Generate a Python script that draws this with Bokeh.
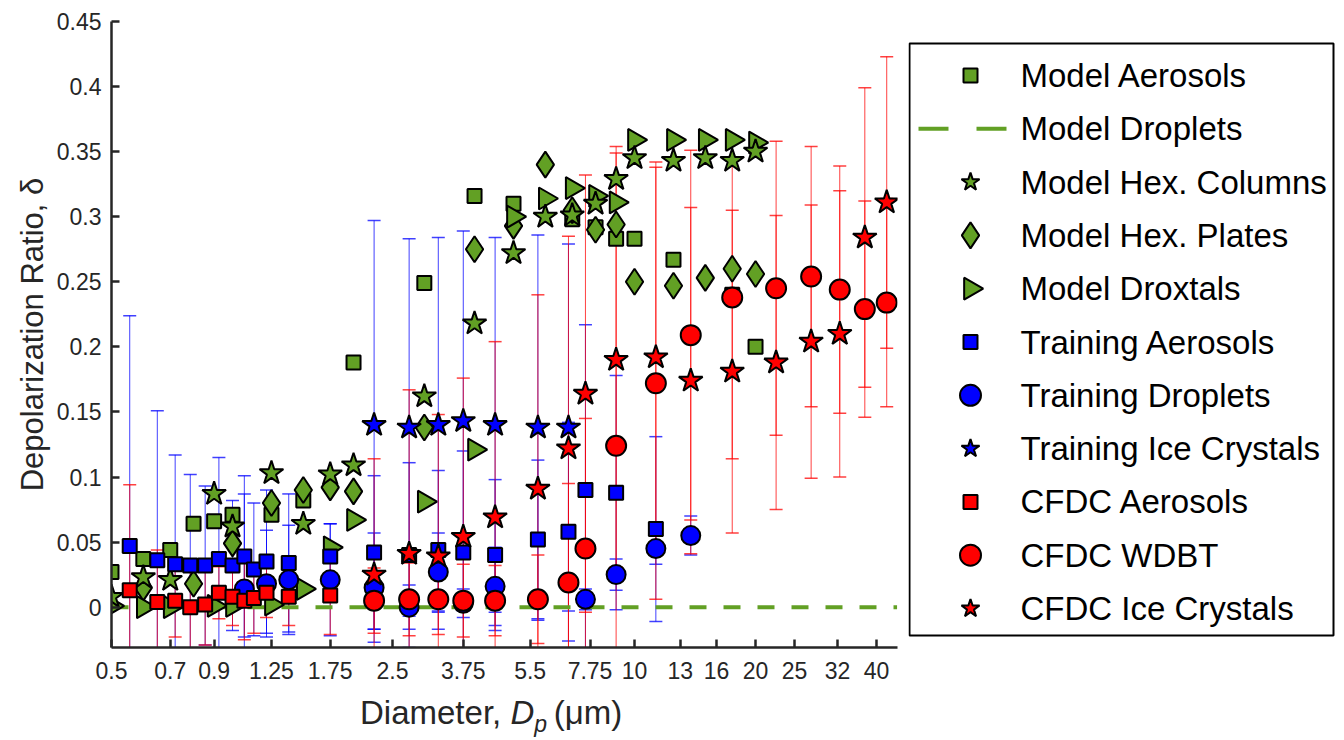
import numpy as np
from bokeh.plotting import figure
from bokeh.models import (ColumnDataSource, Whisker, TeeHead, FixedTicker,
                          CustomJSTickFormatter, Range1d, Div)
from bokeh.layouts import row, column
from bokeh.core.properties import value
from bokeh.embed import file_html
from bokeh.resources import INLINE

NaN = float("nan")
FONT = "Liberation Sans"
GREEN = "#62a024"
BLUE = "#0000ff"
RED = "#ff0000"
AX = "#262626"

# ---------------- data ----------------
x_ticks = [0.5, 0.7, 0.9, 1.25, 1.75, 2.5, 3.75, 5.5, 7.75, 10, 13, 16, 20, 25, 32, 40]
y_ticks = [0, 0.05, 0.1, 0.15, 0.2, 0.25, 0.3, 0.35, 0.4, 0.45]

model_x = [0.5, 0.6, 0.7, 0.8, 0.9, 1.0, 1.25, 1.5, 1.75, 2.0, 3.0, 4.0, 5.0, 6.0,
           7.0, 8.0, 9.0, 10, 12.5, 15, 17.5, 20]
model_aerosols = [0.027, 0.037, 0.044, 0.064, 0.066, 0.071, 0.071, 0.082, NaN, 0.188, 0.249,
                  0.316, 0.310, NaN, 0.298, 0.292, 0.283, 0.283, 0.267, NaN, 0.240, 0.200]
model_hex_columns = [0.008, 0.023, 0.021, NaN, 0.087, 0.062, 0.103, 0.064, 0.102, 0.109, 0.162,
                     0.218, 0.272, 0.300, 0.301, 0.310, 0.329, 0.345, 0.343, 0.345, 0.343, 0.350]
model_hex_plates = [NaN, 0.015, NaN, 0.018, NaN, 0.049, 0.080, 0.090, 0.092, 0.089, 0.138,
                    0.275, 0.293, 0.340, 0.305, 0.290, 0.294, 0.250, 0.247, 0.253, 0.260, 0.256]
model_droxtals = [0.001, 0.000, 0.000, NaN, 0.001, 0.001, 0.002, 0.014, 0.046, 0.067, 0.081,
                  0.121, 0.300, 0.314, 0.322, 0.316, 0.311, 0.359, 0.359, 0.359, 0.359, 0.357]
droplet_x = [0.5, 45.0]
model_droplets = [0.0, 0.0]

tr_aer_x = [0.555, 0.65, 0.72, 0.785, 0.855, 0.925, 1.0, 1.07, 1.13, 1.215, 1.38, 1.75,
            2.25, 2.75, 3.25, 3.75, 4.5, 5.75, 6.85, 7.55, 9.0, 11.3]
tr_aer_y = [0.047, 0.036, 0.033, 0.032, 0.032, 0.037, 0.032, 0.039, 0.029, 0.035, 0.034, 0.039,
            0.042, 0.040, 0.044, 0.042, 0.040, 0.052, 0.058, 0.090, 0.088, 0.060]
tr_aer_err = [0.177, 0.115, 0.084, 0.070, 0.061, 0.078, 0.050, 0.062, 0.051, 0.055, 0.053, 0.025,
              0.059, 0.071, 0.061, 0.078, 0.058, 0.061, 0.084, 0.127, 0.090, 0.071]

tr_drop_x = [1.07, 1.215, 1.38, 1.75, 2.25, 2.75, 3.25, 3.75, 4.5, 7.55, 9.0, 11.3, 13.8]
tr_drop_y = [0.014, 0.018, 0.021, 0.021, 0.015, 0.000, 0.027, 0.003, 0.016, 0.006, 0.025, 0.045, 0.055]
tr_drop_err = [0.073, 0.041, 0.042, 0.043, 0.042, 0.017, 0.030, 0.011, 0.030, 0.008, 0.012, 0.012, 0.015]

tr_ice_x = [2.25, 2.75, 3.25, 3.75, 4.5, 5.75, 6.85]
tr_ice_y = [0.140, 0.138, 0.140, 0.143, 0.140, 0.138, 0.138]
tr_ice_err = [0.157, 0.145, 0.144, 0.146, 0.144, 0.148, 0.141]

cf_aer_x = [0.555, 0.65, 0.72, 0.785, 0.855, 0.925, 1.0, 1.07, 1.13, 1.215, 1.38, 1.75]
cf_aer_y = [0.013, 0.004, 0.005, 0.000, 0.002, 0.011, 0.008, 0.005, 0.007, 0.011, 0.008, 0.009]
cf_aer_err = [0.081, 0.040, 0.028, 0.035, 0.031, 0.020, 0.022, 0.030, 0.027, 0.019, 0.022, 0.030]

cf_x = [2.25, 2.75, 3.25, 3.75, 4.5, 5.75, 6.85, 7.55, 9.0, 11.3, 13.8, 17.5, 22.5,
        27.5, 32.4, 37.4, 42.4]
cf_wdbt_y = [0.005, 0.006, 0.006, 0.005, 0.005, 0.006, 0.019, 0.045, 0.124, 0.172, 0.209,
             0.238, 0.245, 0.254, 0.244, 0.229, 0.234]
cf_wdbt_err = [0.025, 0.028, 0.027, 0.028, 0.027, 0.034, 0.076, 0.100, 0.230, 0.166, 0.142,
               0.124, 0.113, 0.100, 0.095, 0.083, 0.080]
cf_ice_y = [0.025, 0.041, 0.039, 0.054, 0.069, 0.091, 0.122, 0.164, 0.190, 0.192, 0.174,
            0.181, 0.188, 0.204, 0.210, 0.284, 0.311]
cf_ice_err = [0.089, 0.126, 0.109, 0.122, 0.135, 0.149, 0.163, 0.168, 0.159, 0.150, 0.133,
              0.124, 0.113, 0.105, 0.110, 0.115, 0.112]

legend_labels = ["Model Aerosols", "Model Droplets", "Model Hex. Columns", "Model Hex. Plates",
                 "Model Droxtals", "Training Aerosols", "Training Droplets",
                 "Training Ice Crystals", "CFDC Aerosols", "CFDC WDBT", "CFDC Ice Crystals"]

# ---------------- layout constants ----------------
B_LEFT, B_TOP, B_BOTTOM, B_RIGHT = 111, 21, 49, 11
FW, FH = 786, 626

# ---------------- main figure ----------------
X0, X1 = 0.5, 45.1
Y0, Y1 = -0.031, 0.45
p = figure(frame_width=FW, frame_height=FH, x_axis_type="log",
           x_range=Range1d(X0, X1), y_range=Range1d(Y0, Y1),
           output_backend="svg", toolbar_location=None,
           min_border_left=B_LEFT, min_border_top=B_TOP, min_border_bottom=B_BOTTOM,
           min_border_right=B_RIGHT)
p.outline_line_color = None
p.grid.visible = False

for ax in (p.xaxis[0], p.yaxis[0]):
    ax.axis_line_color = AX
    ax.axis_line_width = 2.5
    ax.major_tick_line_color = AX
    ax.major_tick_line_width = 2.5
    ax.major_tick_in = 8
    ax.major_tick_out = 0
    ax.minor_tick_line_color = None
    ax.major_label_text_font = FONT
    ax.major_label_text_font_size = "23px"
    ax.major_label_text_color = AX
    ax.axis_label_text_font = FONT
    ax.axis_label_text_font_size = "31px"
    ax.axis_label_text_font_style = "normal"
    ax.axis_label_text_color = AX

p.xaxis.ticker = FixedTicker(ticks=x_ticks)
p.xaxis.formatter = CustomJSTickFormatter(code="return String(tick);")
p.xaxis.major_label_standoff = 14
p.xaxis.axis_label = None
p.yaxis.ticker = FixedTicker(ticks=y_ticks)
p.yaxis.formatter = CustomJSTickFormatter(code="return String(Number(tick.toFixed(2)));")
p.yaxis.major_label_standoff = 10
p.yaxis.axis_label = "Depolarization Ratio, δ"
p.yaxis.axis_label_standoff = 4


def err_src(x, y, e):
    y = np.array(y, float)
    e = np.array(e, float)
    return ColumnDataSource(dict(x=x, y=y, upper=y + e, lower=y - e))


def add_whisker(src, color, alpha):
    w = Whisker(source=src, base="x", upper="upper", lower="lower", dimension="height",
                line_color=color, line_alpha=alpha, line_width=1,
                upper_head=TeeHead(size=13, line_color=color, line_alpha=alpha, line_width=1.5),
                lower_head=TeeHead(size=13, line_color=color, line_alpha=alpha, line_width=1.5))
    p.add_layout(w)


MK = dict(line_color="black", line_width=2)

p.line(droplet_x, model_droplets, line_color=GREEN, line_width=4, line_dash="17 17")

p.scatter(model_x, model_aerosols, marker="square", size=14, fill_color=GREEN, **MK)
p.scatter(model_x, model_hex_plates, marker="diamond", size=26, fill_color=GREEN, **MK)
p.scatter(model_x, model_droxtals, marker="triangle", size=22, angle=-np.pi / 2,
          fill_color=GREEN, **MK)
p.scatter(model_x, model_hex_columns, marker="star", size=25, fill_color=GREEN, **MK)

s_tr_aer = err_src(tr_aer_x, tr_aer_y, tr_aer_err)
s_tr_drop = err_src(tr_drop_x, tr_drop_y, tr_drop_err)
s_tr_ice = err_src(tr_ice_x, tr_ice_y, tr_ice_err)
p.scatter("x", "y", source=s_tr_aer, marker="square", size=14, fill_color=BLUE, **MK)
p.scatter("x", "y", source=s_tr_drop, marker="circle", size=19, fill_color=BLUE, **MK)
p.scatter("x", "y", source=s_tr_ice, marker="star", size=25, fill_color=BLUE, **MK)

s_cf_aer = err_src(cf_aer_x, cf_aer_y, cf_aer_err)
s_cf_wdbt = err_src(cf_x, cf_wdbt_y, cf_wdbt_err)
s_cf_ice = err_src(cf_x, cf_ice_y, cf_ice_err)
p.scatter("x", "y", source=s_cf_aer, marker="square", size=14, fill_color=RED, **MK)
p.scatter("x", "y", source=s_cf_wdbt, marker="circle", size=20, fill_color=RED, **MK)
p.scatter("x", "y", source=s_cf_ice, marker="star", size=25, fill_color=RED, **MK)

for s in (s_tr_aer, s_tr_drop, s_tr_ice):
    add_whisker(s, BLUE, 0.75)
for s in (s_cf_aer, s_cf_wdbt, s_cf_ice):
    add_whisker(s, RED, 0.75)

# ---------------- legend panel (separate svg figure, page-pixel coordinates) ----------------
LX0 = B_LEFT + FW + B_RIGHT          # left edge of legend figure on the page
LW = 428
leg = figure(frame_width=LW, frame_height=FH,
             x_range=Range1d(LX0, LX0 + LW), y_range=Range1d(B_TOP + FH, B_TOP),
             output_backend="svg", toolbar_location=None,
             min_border_left=0, min_border_right=0, min_border_top=B_TOP,
             min_border_bottom=B_BOTTOM, x_axis_location=None, y_axis_location=None)
leg.outline_line_color = None
leg.grid.visible = False

box = dict(left=LX0 + 1, right=LX0 + 425, top=43, bottom=635)
leg.quad(left=[box["left"]], right=[box["right"]], top=[box["top"]], bottom=[box["bottom"]],
         fill_color="white", line_color="black", line_width=2)

n = len(legend_labels)
row_y = [75 + i * 53.3 for i in range(n)]
mark_x = LX0 + 62
text_x = LX0 + 112

leg_markers = ["square", None, "star", "diamond", "triangle", "square", "circle", "star",
               "square", "circle", "star"]
leg_colors = [GREEN, GREEN, GREEN, GREEN, GREEN, BLUE, BLUE, BLUE, RED, RED, RED]
leg_sizes = [14, 0, 19, 26, 22, 14, 21, 19, 14, 21, 19]
leg_angles = [0, 0, 0, 0, -np.pi / 2, 0, 0, 0, 0, 0, 0]
idx = [i for i, m in enumerate(leg_markers) if m is not None]
leg_src = ColumnDataSource(dict(
    x=[mark_x] * len(idx), y=[row_y[i] for i in idx],
    marker=[leg_markers[i] for i in idx], color=[leg_colors[i] for i in idx],
    size=[leg_sizes[i] for i in idx], angle=[leg_angles[i] for i in idx]))
leg.scatter("x", "y", source=leg_src, marker="marker", fill_color="color", size="size",
            angle="angle", line_color="black", line_width=2)
leg.line([LX0 + 10, LX0 + 98], [row_y[1], row_y[1]], line_color=GREEN, line_width=4,
         line_dash="30 28")
leg.text(x=[text_x] * n, y=row_y, text=legend_labels, text_font=value(FONT),
         text_font_size=value("33px"), text_baseline="middle", text_align="left",
         text_color="black")

# ---------------- x-axis label (real HTML text) ----------------
xlabel = Div(text="Diameter, <i>D</i><sub style='font-size:23px'><i>p</i></sub>&thinsp;(μm)",
             width=LX0 + LW, height=36, margin=0,
             styles={"font-family": FONT, "font-size": "33px", "color": AX,
                     "padding-left": "360px", "line-height": "33px", "white-space": "nowrap"})

layout = column(row(p, leg, spacing=0), xlabel, spacing=0)

open("out.html", "w").write(file_html(layout, INLINE))
